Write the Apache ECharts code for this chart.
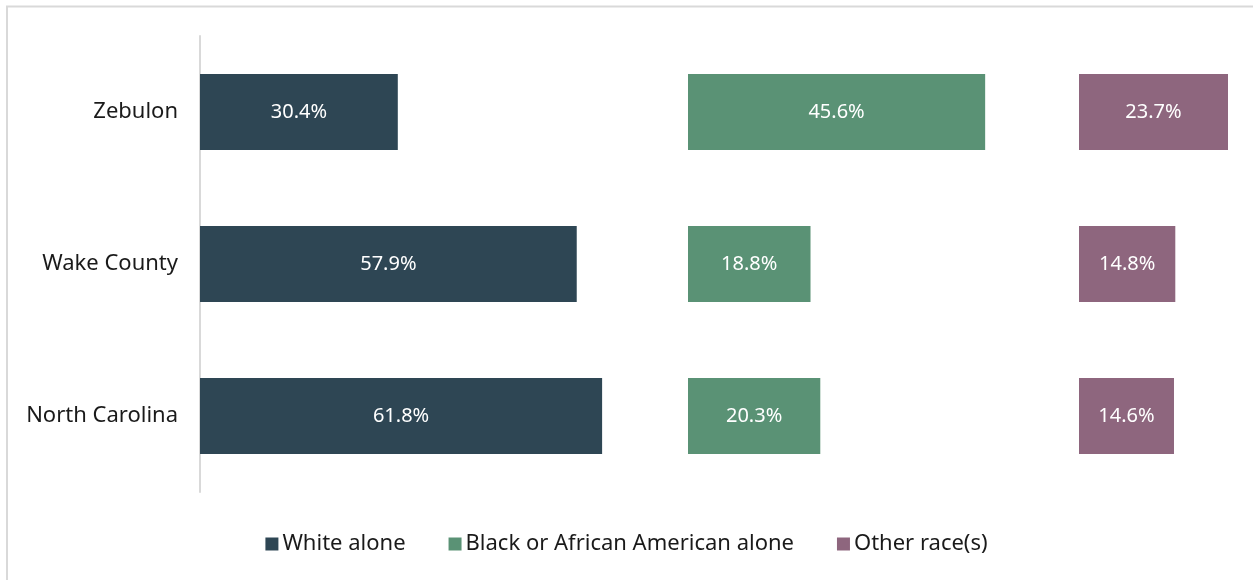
<!DOCTYPE html>
<html>
<head>
<meta charset="utf-8">
<script src="https://cdn.jsdelivr.net/npm/echarts@6/dist/echarts.min.js"></script>
<style>
  html, body { margin: 0; padding: 0; background: #ffffff; }
  #chart { width: 1253px; height: 580px; }
</style>
</head>
<body>
<div id="chart"></div>
<script>
// Share of population by race, three geographies
const categories = ['Zebulon', 'Wake County', 'North Carolina'];
const seriesNames = ['White alone', 'Black or African American alone', 'Other race(s)'];
const whiteAlone = [30.4, 57.9, 61.8];
const blackAlone = [45.6, 18.8, 20.3];
const otherRaces = [23.7, 14.8, 14.6];

const colors = ['#2E4654', '#5A9275', '#8E667E'];
const FONT = 'Noto Sans';

// Each race gets its own panel; all panels share the same px-per-percent scale
const panels = [
  { left: 200, width: 488, max: 75 },
  { left: 688, width: 391, max: 60 },
  { left: 1079, width: 149, max: 22.9 }
];

const chart = echarts.init(document.getElementById('chart'), null, { renderer: 'canvas' });

const grids = panels.map(p => ({ left: p.left, width: p.width, top: 36, height: 456, containLabel: false }));
const xAxes = panels.map((p, i) => ({
  type: 'value', gridIndex: i, min: 0, max: p.max,
  show: false
}));
const yAxes = panels.map((p, i) => ({
  type: 'category', gridIndex: i, data: categories, inverse: true,
  axisLine: { show: i === 0, lineStyle: { color: '#d9d9d9', width: 2 } },
  axisTick: { show: false },
  axisLabel: { show: i === 0, fontFamily: FONT, fontSize: 22, color: '#1a1a1a', margin: 22 },
  splitLine: { show: false }
}));

const values = [whiteAlone, blackAlone, otherRaces];
const series = values.map((vals, i) => ({
  name: seriesNames[i],
  type: 'bar',
  xAxisIndex: i,
  yAxisIndex: i,
  data: vals,
  barWidth: '50%',
  itemStyle: { color: colors[i] },
  label: {
    show: true, position: 'inside', color: '#ffffff',
    fontFamily: FONT, fontSize: 20,
    formatter: p => p.value.toFixed(1) + '%'
  },
  emphasis: { disabled: true }
}));

chart.setOption({
  animation: false,
  color: colors,
  grid: grids,
  xAxis: xAxes,
  yAxis: yAxes,
  legend: {
    data: seriesNames,
    bottom: 20,
    left: 'center',
    itemWidth: 13,
    itemHeight: 13,
    itemGap: 43,
    icon: 'rect',
    textStyle: { fontFamily: FONT, fontSize: 22, color: '#1a1a1a', padding: [0, 0, 0, -1] }
  },
  graphic: [{
    type: 'rect',
    shape: { x: 7, y: 6.5, width: 1400, height: 700 },
    style: { fill: 'none', stroke: '#d9d9d9', lineWidth: 2 },
    silent: true
  }],
  series: series
});
</script>
</body>
</html>
